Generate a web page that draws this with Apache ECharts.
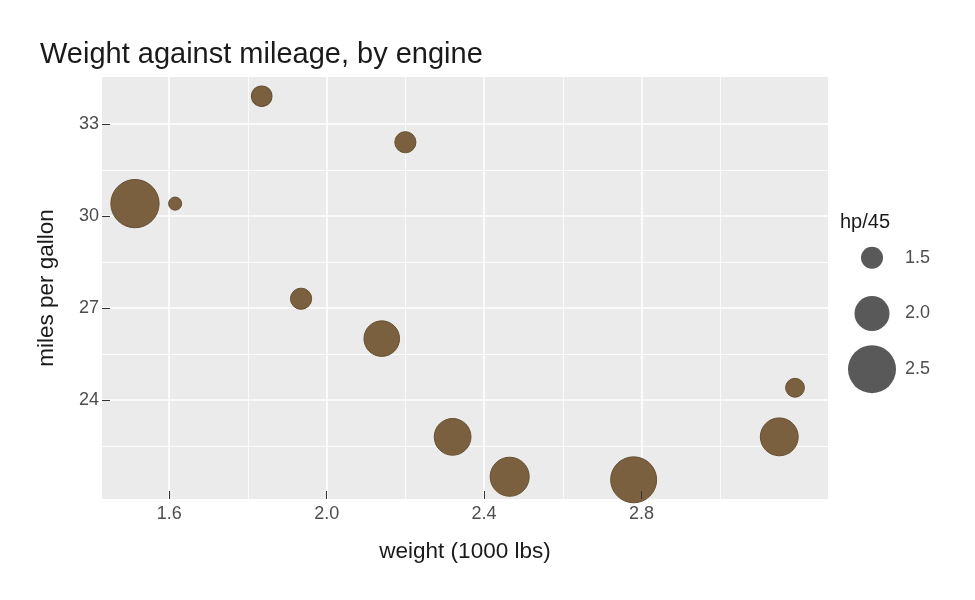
<!DOCTYPE html>
<html>
<head>
<meta charset="utf-8">
<script src="https://cdn.jsdelivr.net/npm/echarts@6/dist/echarts.min.js"></script>
<style>html,body{margin:0;padding:0;background:#fff}#c{width:975px;height:600px}</style>
</head>
<body>
<div id="c"></div>
<script>
// Data (mtcars subset): weight (1000 lbs), mpg, hp/45
const weight = [1.513, 1.615, 1.835, 2.2, 1.935, 2.14, 2.32, 2.465, 2.78, 3.15, 3.19];
const mpg    = [30.4, 30.4, 33.9, 32.4, 27.3, 26.0, 22.8, 21.5, 21.4, 22.8, 24.4];
const hp45   = [2.511, 1.156, 1.444, 1.467, 1.467, 2.022, 2.067, 2.156, 2.422, 2.111, 1.378];
const xMajor = [1.6, 2.0, 2.4, 2.8];
const xMinor = [1.8, 2.2, 2.6, 3.0];
const yMajor = [24, 27, 30, 33];
const yMinor = [22.5, 25.5, 28.5, 31.5];
const legendVals = [1.5, 2.0, 2.5];

const FONT = '"Liberation Sans", Arial, Helvetica, sans-serif';
const sizeOf = v => 22 + 26 * (v - 1.5);

const pts = weight.map((w, i) => [w, mpg[i], hp45[i]]);

const gridLines = [];
xMajor.forEach(v => gridLines.push({xAxis: v, lineStyle: {width: 1.6}}));
xMinor.forEach(v => gridLines.push({xAxis: v, lineStyle: {width: 0.8}}));
yMajor.forEach(v => gridLines.push({yAxis: v, lineStyle: {width: 1.6}}));
yMinor.forEach(v => gridLines.push({yAxis: v, lineStyle: {width: 0.8}}));

const chart = echarts.init(document.getElementById('c'), null, {renderer: 'canvas'});
chart.setOption({
  animation: false,
  backgroundColor: '#ffffff',
  textStyle: {fontFamily: FONT},
  title: [
    {text: 'Weight against mileage, by engine', left: 35, top: 35,
     textStyle: {fontFamily: FONT, fontSize: 29, fontWeight: 'normal', color: '#1a1a1a'}},
    {text: 'hp/45', left: 835, top: 207,
     textStyle: {fontFamily: FONT, fontSize: 20, fontWeight: 'normal', color: '#1a1a1a'}}
  ],
  grid: [
    {left: 102, right: 147, top: 77, bottom: 101, show: true, backgroundColor: '#ebebeb', borderWidth: 0},
    {left: 850, width: 44, top: 230, height: 167, show: false}
  ],
  xAxis: [
    {type: 'value', gridIndex: 0, min: 1.4292, max: 3.2738, z: 10,
     name: 'weight (1000 lbs)', nameLocation: 'middle', nameGap: 41,
     nameTextStyle: {fontFamily: FONT, fontSize: 22.5, color: '#1a1a1a'},
     axisLine: {show: false}, splitLine: {show: false},
     axisTick: {show: true, inside: true, length: 8, customValues: xMajor, lineStyle: {color: '#333333', width: 1}},
     axisLabel: {customValues: xMajor, formatter: v => v.toFixed(1), margin: 6, fontFamily: FONT, fontSize: 18, color: '#4d4d4d'}},
    {type: 'value', gridIndex: 1, min: -1, max: 1, show: false}
  ],
  yAxis: [
    {type: 'value', gridIndex: 0, min: 20.775, max: 34.525, z: 10,
     name: 'miles per gallon', nameLocation: 'middle', nameGap: 44, nameRotate: 90,
     nameTextStyle: {fontFamily: FONT, fontSize: 22.5, color: '#1a1a1a'},
     axisLine: {show: false}, splitLine: {show: false},
     axisTick: {show: true, inside: true, length: 8, customValues: yMajor, lineStyle: {color: '#333333', width: 1}},
     axisLabel: {customValues: yMajor, margin: 3, fontFamily: FONT, fontSize: 18, color: '#4d4d4d'}},
    {type: 'category', gridIndex: 1, inverse: true, position: 'right',
     data: legendVals.map(v => v.toFixed(1)),
     axisLine: {show: false}, axisTick: {show: false}, splitLine: {show: false},
     axisLabel: {margin: 11, fontFamily: FONT, fontSize: 18, color: '#4d4d4d'}}
  ],
  series: [
    {type: 'line', xAxisIndex: 0, yAxisIndex: 0, data: [], z: 1, silent: true,
     markLine: {silent: true, z: 1, symbol: 'none', label: {show: false}, animation: false,
       lineStyle: {color: '#ffffff', type: 'solid'}, emphasis: {disabled: true},
       data: gridLines}},
    {type: 'scatter', xAxisIndex: 0, yAxisIndex: 0, z: 3, data: pts,
     symbolSize: d => sizeOf(d[2]),
     itemStyle: {color: '#7a603f', opacity: 1, borderColor: '#66502f', borderWidth: 1}},
    {type: 'scatter', xAxisIndex: 1, yAxisIndex: 1, z: 3,
     data: legendVals.map(v => [0, v.toFixed(1), v]),
     symbolSize: d => sizeOf(d[2]),
     itemStyle: {color: '#595959', opacity: 1}}
  ]
});
</script>
</body>
</html>
